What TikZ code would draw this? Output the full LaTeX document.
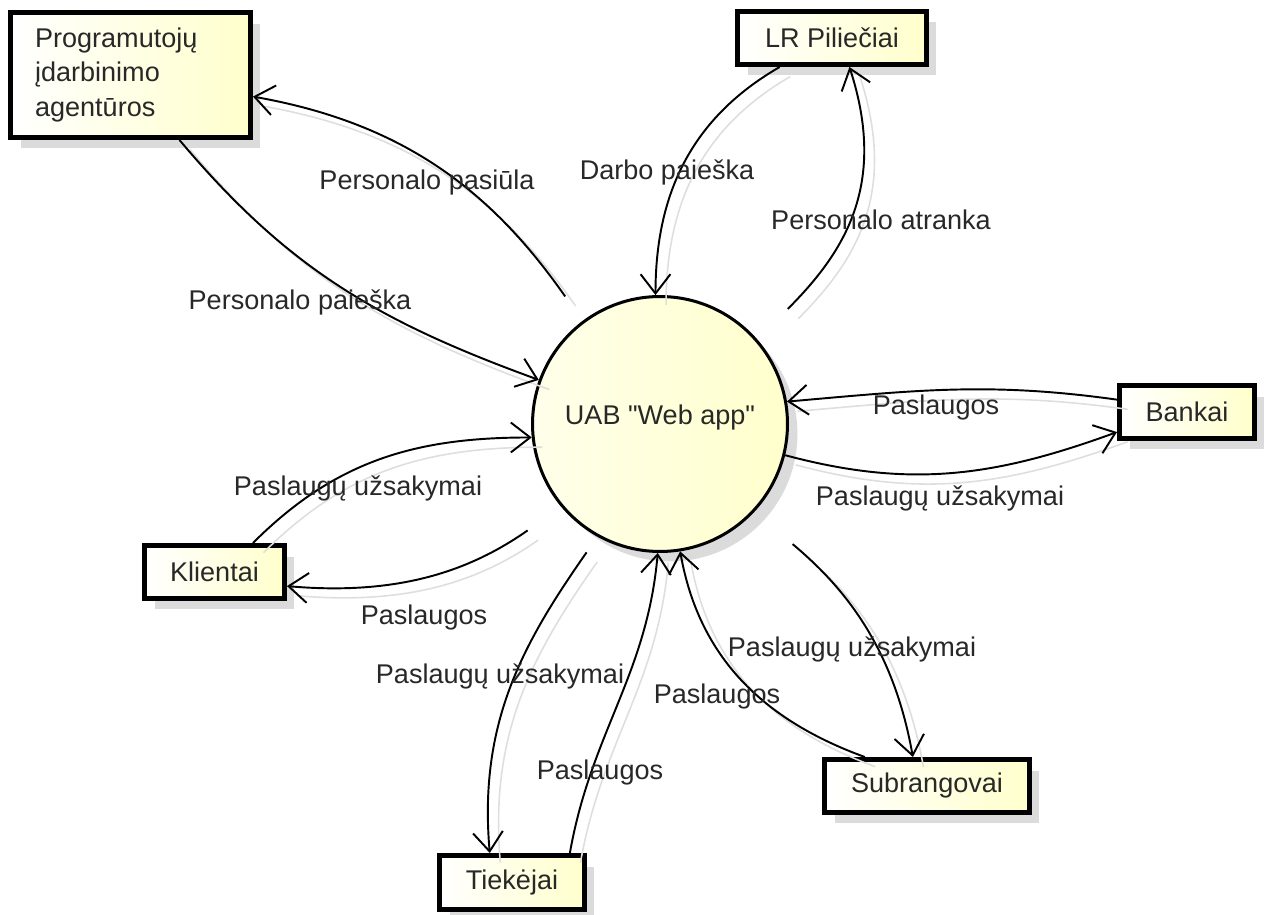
\documentclass[tikz,border=0pt]{standalone}
\usepackage{fontspec}
\setmainfont{Liberation Sans}
\usetikzlibrary{arrows.meta,shadows}
\definecolor{actorfill}{RGB}{255,255,204}
\definecolor{labeltext}{RGB}{40,40,40}

\begin{document}
\begin{tikzpicture}[
x=0.02cm, y=-0.02cm,
font=\fontsize{15.4}{19.5}\selectfont,
actor/.style={
rectangle,
draw,
line width=1mm,
left color=white,
right color=actorfill,
drop shadow={shadow xshift=0.2cm, shadow yshift=-0.22cm, fill=black!14, opacity=1},
text=labeltext,
minimum height=1.06cm
},
procesas/.style={
circle,
draw,
line width=0.6mm,
left color=actorfill!40,
right color=actorfill,
drop shadow={shadow xshift=0.2cm, shadow yshift=-0.2cm, fill=black!14, opacity=1},
text=labeltext,
minimum size=5.1cm,
inner sep=0pt
},
srautas/.style={
line width=1.1pt,
-{Straight Barb[length=11pt,width=17pt]},
preaction={draw=black!13, line width=0.9pt, -, transform canvas={shift={(6pt,-5.5pt)}}}
},
pavad/.style={text=labeltext, inner sep=0pt}
]
\useasboundingbox (0,0) rectangle (1272,915);

% external entities
\node[actor, minimum width=4.8cm, minimum height=2.5cm, align=left, text width=3.82cm, inner xsep=0.49cm] (agency) at (130.5,75) {Programutojų\\ įdarbinimo\\ agentūros};
\node[actor, minimum width=3.78cm] (lr) at (832,38) {LR Piliečiai};
\node[actor, minimum width=2.7cm] (bankai) at (1187,412) {Bankai};
\node[actor, minimum width=2.8cm] (klientai) at (214.5,572) {Klientai};
\node[actor, minimum width=2.9cm, minimum height=1.08cm] (tiekejai) at (512,882.5) {Tiekėjai};
\node[actor, minimum width=4.1cm] (subr) at (927,786) {Subrangovai};

% the process
\node[procesas] (web) at (660,424) {\raisebox{11pt}{UAB \textquotedbl Web app\textquotedbl}};

% flows
\draw[srautas] (agency.-53) to[out=-50, in=160] (web.160);
\draw[srautas, shorten <=0.6cm] (web.127) to[out=125, in=-10] (agency.-10);
\draw[srautas] (lr.209) to[out=210, in=90] (web.92);
\draw[srautas, shorten <=0.86cm] (web.41) to[out=45, in=-72, looseness=1.1] (lr.-59);
\draw[srautas] (bankai.170) to[out=172, in=5] (web.10);
\draw[srautas] (web.-14) to[out=-15, in=200] (bankai.196);
\draw[srautas] (klientai.37) to[out=45, in=180] (web.186);
\draw[srautas, shorten <=0.82cm] (web.220) to[out=215, in=-5] (klientai.-11);
\draw[srautas, shorten <=0.38cm] (web.241) to[out=235, in=95] (tiekejai.127);
\draw[srautas] (tiekejai.27) to[out=80, in=265] (web.269);
\draw[srautas] (subr.155) to[out=160, in=-80] (web.-81);
\draw[srautas, shorten <=1.0cm] (web.-43) to[out=-40, in=100] (subr.116);

% flow labels
\node[pavad] (lPasiula) at (427,183) {Personalo pasiūla};
\node[pavad] (lPaieska) at (300,302) {Personalo paieška};
\node[pavad] (lDarbo) at (667,172) {Darbo paieška};
\node[pavad] (lAtranka) at (881,220) {Personalo atranka};
\node[pavad] (lBankPasl) at (936,408) {Paslaugos};
\node[pavad] (lBankUzs) at (940,498) {Paslaugų užsakymai};
\node[pavad] (lKlientUzs) at (358,488) {Paslaugų užsakymai};
\node[pavad] (lKlientPasl) at (424,618) {Paslaugos};
\node[pavad] (lTiekUzs) at (500,676) {Paslaugų užsakymai};
\node[pavad] (lTiekPasl) at (600,773) {Paslaugos};
\node[pavad] (lSubrUzs) at (852,649) {Paslaugų užsakymai};
\node[pavad] (lSubrPasl) at (717,697) {Paslaugos};

\end{tikzpicture}
\end{document}
